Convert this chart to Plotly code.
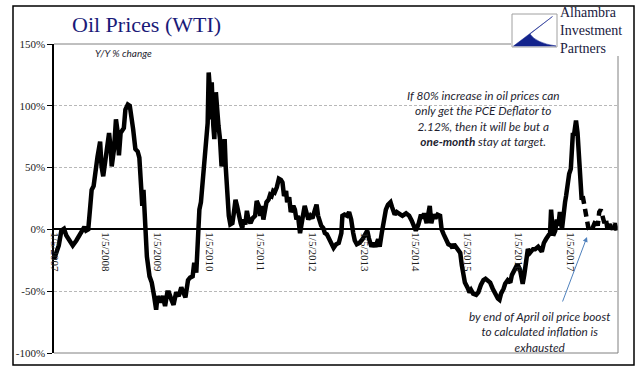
import plotly.graph_objects as go
import pandas as pd

# ---- data (time in decimal years, where YYYY.0 = Jan 5 of that year) ----
t_solid = [
    2007.0, 2007.06, 2007.09, 2007.14, 2007.19, 2007.236, 2007.30, 2007.36, 2007.43, 2007.49,
    2007.55, 2007.586, 2007.618, 2007.66, 2007.70, 2007.726, 2007.764, 2007.796, 2007.84, 2007.89,
    2007.917, 2007.95, 2007.987, 2008.03, 2008.064, 2008.096, 2008.115, 2008.16, 2008.197, 2008.223,
    2008.255, 2008.287, 2008.318, 2008.35, 2008.38, 2008.427, 2008.465, 2008.49, 2008.53, 2008.573,
    2008.618, 2008.65, 2008.68, 2008.707, 2008.73, 2008.758, 2008.796, 2008.847, 2008.89, 2008.936,
    2008.975, 2009.0, 2009.05, 2009.10, 2009.146, 2009.19,
    2009.22, 2009.27, 2009.31, 2009.36, 2009.41, 2009.46, 2009.50, 2009.54, 2009.59, 2009.63,
    2009.68, 2009.71, 2009.75, 2009.78, 2009.81, 2009.84, 2009.87, 2009.89, 2009.92, 2009.94,
    2009.97, 2009.99, 2010.01, 2010.03, 2010.05, 2010.08, 2010.10, 2010.13, 2010.15, 2010.18,
    2010.21, 2010.24, 2010.27, 2010.30, 2010.32, 2010.35, 2010.38, 2010.41, 2010.45, 2010.48,
    2010.51, 2010.54, 2010.57, 2010.61, 2010.64, 2010.67, 2010.70, 2010.73, 2010.76, 2010.80,
    2010.84, 2010.89, 2010.92, 2010.96, 2010.99, 2011.02, 2011.05, 2011.08, 2011.11, 2011.15,
    2011.18, 2011.21, 2011.24, 2011.27, 2011.31, 2011.35,
    2011.39, 2011.42, 2011.45, 2011.49, 2011.51, 2011.55, 2011.58, 2011.63, 2011.66, 2011.69,
    2011.72, 2011.76, 2011.79, 2011.82, 2011.85, 2011.88, 2011.92, 2011.96, 2012.0, 2012.05,
    2012.08, 2012.11, 2012.14, 2012.17, 2012.21, 2012.24, 2012.28, 2012.32, 2012.37, 2012.41,
    2012.46, 2012.51, 2012.56, 2012.58, 2012.62, 2012.67, 2012.71, 2012.75, 2012.79, 2012.82,
    2012.86, 2012.91, 2012.97, 2013.01, 2013.06, 2013.09, 2013.14, 2013.18, 2013.22, 2013.27,
    2013.30, 2013.34, 2013.38, 2013.42, 2013.46, 2013.51, 2013.54, 2013.59, 2013.63,
    2013.68, 2013.74, 2013.81, 2013.87, 2013.92, 2013.97, 2014.0, 2014.05, 2014.10, 2014.13,
    2014.16, 2014.21, 2014.25, 2014.27, 2014.30, 2014.34, 2014.38, 2014.42, 2014.47, 2014.50,
    2014.54, 2014.58, 2014.63, 2014.68, 2014.71, 2014.74, 2014.79, 2014.83, 2014.86, 2014.89,
    2014.92, 2014.95, 2015.0, 2015.04, 2015.07, 2015.11, 2015.17, 2015.21, 2015.26, 2015.31,
    2015.35, 2015.39, 2015.44, 2015.49, 2015.54, 2015.59, 2015.62, 2015.65, 2015.70, 2015.73,
    2015.78, 2015.83, 2015.86, 2015.91, 2015.94, 2015.97, 2016.02, 2016.07, 2016.10, 2016.14,
    2016.17, 2016.21, 2016.27, 2016.31, 2016.37, 2016.44, 2016.48, 2016.52, 2016.57, 2016.60,
    2016.62, 2016.65, 2016.66, 2016.70, 2016.73, 2016.76, 2016.79, 2016.83, 2016.86, 2016.89,
    2016.91, 2016.94, 2016.97, 2017.0, 2017.02, 2017.04, 2017.06, 2017.08, 2017.10, 2017.13,
    2017.15, 2017.17, 2017.19, 2017.21, 2017.23,
]
v_solid = [
    -24, -18, -13, -1, 0.5, -5, -9, -13, -9, -4,
    0, 2, -1, 0, 19, 32, 35, 48, 59, 71,
    51, 43, 54, 66, 78, 65, 51, 65, 89, 81,
    60, 78, 81, 82, 97, 101, 100, 94, 81, 65,
    63, 58, 35, 19, 32, 5, -22, -38, -43, -54,
    -65, -54, -59, -54, -62, -51,
    -51, -57, -61, -51, -54, -47, -51, -55, -41, -39,
    -38, -27, -35, -3, 16, 22, 38, 49, 57, 68,
    86, 127, 116, 89, 119, 84, 73, 111, 97, 84,
    73, 51, 59, 73, 51, 24, 11, 4, 5, 14,
    24, 19, 11, 5, 1, 8, 4, 15, 8, 5,
    9, 11, 23, 19, 11, 19, 8, 19, 22, 24,
    28, 27, 31, 30, 34, 41,
    40, 38, 27, 31, 22, 26, 14, 19, 16, 8,
    11, -3, 8, 12, 19, 14, 8, 11, 9, 16,
    20, 11, 7, 3, 1, -3, -4, -7, -12, -15,
    -12, -11, -3, 11, 12, 11, 14, 8, -3, -9,
    -12, -11, -8, -4, -1, -7, -14, -11, -14, -8,
    -14, -3, 8, 16, 20, 22, 18, 12, 14,
    13, 11, 13, 11, 7, 0, -1, 4, 12, 9,
    13, 5, 16, 19, 5, 12, 9, 12, 11, 0,
    -4, -7, -12, -13, -15, -12, -15, -16, -19, -29,
    -37, -43, -47, -51, -49, -52, -53, -51, -45, -41,
    -40, -41, -43, -48, -53, -56, -57, -52, -48, -44,
    -41, -43, -37, -33, -31, -28, -33, -44, -37, -24,
    -16, -19, -16, -16, -14, -18, -11, -8, -5, -3,
    16, 5, -5, -1, 8, 3, 14, 0, 14, 22,
    27, 41, 45, 49, 65, 78, 76, 86, 88, 78,
    65, 46, 32, 24, 27,
]
# projected (dashed) part
t_proj = [
    2017.23, 2017.25, 2017.28, 2017.31, 2017.34, 2017.37, 2017.41, 2017.45, 2017.49, 2017.52,
    2017.55, 2017.58, 2017.62, 2017.65, 2017.68, 2017.71, 2017.75, 2017.77, 2017.81, 2017.85,
    2017.88, 2017.90,
]
v_proj = [
    27, 22, 14, 8, 1, -1, 0, 4, 8, 3,
    14, 16, 8, 5, 8, 0, 4, 3, 0, 5,
    1, -3,
]

tick_years = [2007, 2008, 2009, 2010, 2011, 2012, 2013, 2014, 2015, 2016, 2017]
tick_labels = ["1/5/%d" % y for y in tick_years]
y_ticks = [-100, -50, 0, 50, 100, 150]
y_tick_labels = ["-100%", "-50%", "0%", "50%", "100%", "150%"]


def to_date(y):
    yr = int(y)
    return pd.Timestamp(f"{yr}-01-05") + pd.Timedelta(days=(y - yr) * 365.25)


x_solid = [to_date(t) for t in t_solid]
x_proj = [to_date(t) for t in t_proj]

W, H = 641, 381
ML, MR, MT, MB = 54, 23, 44, 28
PW, PH = W - ML - MR, H - MT - MB


def px(x):
    return (x - ML) / PW


def py(y):
    return (H - MB - y) / PH


fig = go.Figure()
fig.add_trace(go.Scatter(x=x_solid, y=v_solid, mode="lines",
                         line=dict(color="black", width=4.5), hoverinfo="skip"))
fig.add_trace(go.Scatter(x=x_proj, y=v_proj, mode="lines",
                         line=dict(color="black", width=4.5, dash="8px,5px"), hoverinfo="skip"))

serif = "Liberation Serif"
sans = "Lato"
txt_col = "#1e1e30"

shapes = []
# outer frame
shapes.append(dict(type="rect", xref="paper", yref="paper",
                   x0=px(13), x1=px(634), y0=py(365), y1=py(6),
                   line=dict(color="black", width=1.5), fillcolor="rgba(0,0,0,0)", layer="below"))
# gray plot border lines
shapes.append(dict(type="line", xref="paper", yref="paper", x0=0, x1=px(511), y0=1, y1=1,
                   line=dict(color="#808080", width=1)))
shapes.append(dict(type="line", xref="paper", yref="paper", x0=0, x1=1, y0=0, y1=0,
                   line=dict(color="#808080", width=1)))
shapes.append(dict(type="line", xref="paper", yref="paper", x0=1, x1=1, y0=0, y1=py(56),
                   line=dict(color="#808080", width=1)))
# logo box
shapes.append(dict(type="rect", xref="paper", yref="paper",
                   x0=px(512), x1=px(557), y0=py(47), y1=py(14),
                   line=dict(color="#a0a0a0", width=1), fillcolor="white"))


def P(x, y):
    return f"{px(x)},{py(y)}"


logo_path = (f"M {P(552.5, 16.5)} L {P(513.5, 46)} L {P(556, 46)} "
             f"Q {P(536, 43)} {P(530, 34)} Z")
shapes.append(dict(type="path", xref="paper", yref="paper", path=logo_path,
                   fillcolor="#13238c", line=dict(color="#13238c", width=0.5)))

annotations = [
    dict(text="Oil Prices (WTI)", x=px(146), y=py(25), xref="paper", yref="paper",
         showarrow=False, xanchor="center", yanchor="middle",
         font=dict(family=serif, size=22, color="#1a1a78")),
    dict(text="<i>Y/Y % change</i>", x=px(93), y=py(53), xref="paper", yref="paper",
         showarrow=False, xanchor="left", yanchor="middle",
         font=dict(family=sans, size=10, color=txt_col)),
    dict(text="Alhambra<br>Investment<br>Partners", x=px(558), y=py(30), xref="paper", yref="paper",
         showarrow=False, xanchor="left", yanchor="middle", align="left",
         font=dict(family=serif, size=14, color="#202040")),
    dict(text="<i>If 80% increase in oil prices can<br>only get the PCE Deflator to<br>"
              "2.12%, then it will be but a<br><b>one-month</b> stay at target.</i>",
         x=px(483), y=py(118.5), xref="paper", yref="paper",
         showarrow=False, xanchor="center", yanchor="middle", align="center",
         font=dict(family=sans, size=11.8, color=txt_col)),
    dict(text="<i>by end of April oil price boost<br>to calculated inflation is<br>exhausted</i>",
         x=px(539), y=py(332), xref="paper", yref="paper",
         showarrow=False, xanchor="center", yanchor="middle", align="center",
         font=dict(family=sans, size=11.8, color=txt_col)),
    dict(text="", x=px(587), y=py(237), xref="paper", yref="paper",
         ax=562 - 587, ay=303 - 237, axref="pixel", ayref="pixel",
         showarrow=True, arrowhead=2, arrowsize=1, arrowwidth=1, arrowcolor="#4f81bd"),
]

fig.update_layout(
    width=W, height=H,
    margin=dict(l=ML, r=MR, t=MT, b=MB, pad=0),
    paper_bgcolor="white", plot_bgcolor="white",
    showlegend=False,
    shapes=shapes,
    annotations=annotations,
    xaxis=dict(
        type="date",
        range=[to_date(2007.0) - pd.Timedelta(days=1), to_date(2017.913)],
        tickvals=[to_date(y) for y in tick_years],
        ticktext=tick_labels,
        tickangle=90,
        anchor="free", position=0.4,
        showline=True, linecolor="black", linewidth=1.5,
        showgrid=False, zeroline=False,
        ticks="",
        tickfont=dict(family=serif, size=11, color="#222"),
    ),
    yaxis=dict(
        range=[-100, 150],
        tickvals=y_ticks, ticktext=y_tick_labels,
        showline=True, linecolor="black", linewidth=1.5,
        ticks="outside", ticklen=5, tickcolor="black",
        showgrid=True, gridcolor="#b8b8b8", griddash="3px,2px", gridwidth=1,
        zeroline=False,
        tickfont=dict(family=serif, size=11, color="#222"),
    ),
)

fig.write_html("out.html", config={"displayModeBar": False},
               post_script="document.body.style.margin='0px';")
